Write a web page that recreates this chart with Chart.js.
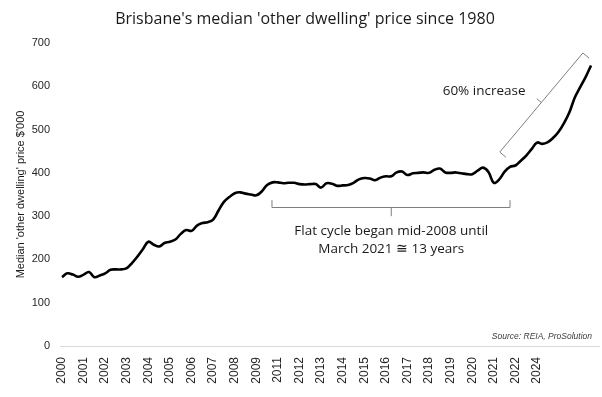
<!DOCTYPE html>
<html>
<head>
<meta charset="utf-8">
<script src="https://cdn.jsdelivr.net/npm/chart.js@4.4.1/dist/chart.umd.min.js"></script>
<style>
html,body{margin:0;padding:0;background:#fff;}
#wrap{width:602px;height:397px;position:relative;}
</style>
</head>
<body>
<div id="wrap"><canvas id="c" width="602" height="397"></canvas></div>
<script>
// Tick labels shown on the category axis (one every 4 quarters)
const tickLabels = ['2000','2001','2002','2003','2004','2005','2006','2007','2008','2009',
  '2011','2012','2013','2014','2015','2016','2017','2018','2019','2020','2021','2022','2024'];

// Quarterly median 'other dwelling' price, $'000
const prices = [
  159,168,165,160,165,171,159,163,168,176,
  177,177,180,192,207,224,241,234,230,238,
  241,246,259,268,266,278,284,286,292,313,
  333,344,353,355,352,350,348,357,372,378,
  378,376,377,377,374,373,374,374,366,376,
  375,370,371,372,377,385,388,387,383,389,
  392,392,401,403,395,399,400,401,400,407,
  410,401,400,401,399,397,397,405,412,402,
  377,385,403,414,417,428,440,455,470,467,
  471,481,495,515,540,574,598,621,648
];

// Category labels built from tick labels
const categories = prices.map((v, i) => (i % 4 === 0 && i / 4 < tickLabels.length) ? tickLabels[i / 4] : '');

const yTicks = [0,100,200,300,400,500,600,700];

const annot = {
  title: "Brisbane's median 'other dwelling' price since 1980",
  flatText: ['Flat cycle began mid-2008 until', 'March 2021 \u2245 13 years'],
  riseText: '60% increase',
  source: 'Source: REIA, ProSolution'
};

const annotPlugin = {
  id: 'annot',
  beforeDatasetsDraw(chart) {
    const ctx = chart.ctx, y = chart.scales.y, a = chart.chartArea;
    const y0 = Math.round(y.getPixelForValue(0)) + 0.5;
    ctx.save();
    ctx.strokeStyle = '#d9d9d9';
    ctx.lineWidth = 1;
    ctx.beginPath();
    ctx.moveTo(a.left - 2, y0);
    ctx.lineTo(600, y0);
    ctx.stroke();
    ctx.restore();
  },
  afterDraw(chart) {
    const ctx = chart.ctx, x = chart.scales.x, y = chart.scales.y, a = chart.chartArea;
    const px = v => x.getPixelForValue(v), py = v => y.getPixelForValue(v);
    ctx.save();
    // Title
    ctx.fillStyle = '#1a1a1a';
    ctx.font = '16px "Open Sans"';
    ctx.textAlign = 'center';
    ctx.textBaseline = 'middle';
    ctx.fillText(annot.title, 305, 19);

    // Flat cycle bracket
    ctx.strokeStyle = '#7f7f7f';
    ctx.lineWidth = 1;
    const l = px(38.9), r = px(83), c = px(61);
    const yb = Math.round(py(321)) + 0.5, yt = py(337), yd = py(300);
    ctx.beginPath();
    ctx.moveTo(l, yt); ctx.lineTo(l, yb); ctx.lineTo(r, yb); ctx.lineTo(r, yt);
    ctx.moveTo(c, yb); ctx.lineTo(c, yd);
    ctx.stroke();
    ctx.fillStyle = '#1a1a1a';
    ctx.font = '13.5px "Open Sans"';
    ctx.textAlign = 'center';
    ctx.fillText(annot.flatText[0], c, py(265.6));
    ctx.fillText(annot.flatText[1], c, py(224));

    // 60% increase bracket (diagonal)
    const p1 = [px(81.1), py(448)], p2 = [px(96.5), py(677)];
    const dx = p2[0] - p1[0], dy = p2[1] - p1[1], len = Math.hypot(dx, dy);
    const nx = -dy / len, ny = dx / len;
    const sx = nx > 0 ? nx : -nx, sy = nx > 0 ? ny : -ny;
    const mid = [(p1[0] + p2[0]) / 2, (p1[1] + p2[1]) / 2];
    ctx.beginPath();
    ctx.moveTo(p1[0] + sx * 8, p1[1] + sy * 8);
    ctx.lineTo(p1[0], p1[1]);
    ctx.lineTo(p2[0], p2[1]);
    ctx.lineTo(p2[0] + sx * 8, p2[1] + sy * 8);
    ctx.moveTo(mid[0], mid[1]);
    ctx.lineTo(mid[0] - sx * 6, mid[1] - sy * 6);
    ctx.stroke();
    ctx.textAlign = 'center';
    ctx.fillText(annot.riseText, px(78.2), py(589));

    // Source
    ctx.font = 'italic 8.5px "Liberation Sans"';
    ctx.fillStyle = '#404040';
    ctx.textAlign = 'right';
    ctx.fillText(annot.source, 592, py(21));
    ctx.restore();
  }
};

new Chart(document.getElementById('c'), {
  type: 'line',
  data: {
    labels: categories,
    datasets: [{
      data: prices,
      borderColor: '#000',
      borderWidth: 2.6,
      pointRadius: 0,
      tension: 0.4,
      fill: false
    }]
  },
  options: {
    responsive: false,
    animation: false,
    layout: { padding: { top: 43, left: 10, right: 11, bottom: 0 } },
    plugins: { legend: { display: false }, tooltip: { enabled: false }, title: { display: false } },
    scales: {
      x: {
        type: 'category',
        offset: false,
        grid: { display: false, drawTicks: false },
        border: { display: false },
        ticks: {
          autoSkip: false,
          maxRotation: 90,
          minRotation: 90,
          padding: 11,
          color: '#262626',
          font: { family: '"Liberation Sans"', size: 12 }
        },
        afterFit(s) { s.height = 51; s.paddingLeft = 0; s.paddingRight = 0; }
      },
      y: {
        min: 0,
        max: 700,
        afterBuildTicks(s) { s.ticks = yTicks.map(v => ({ value: v })); },
        grid: { display: false, drawTicks: false },
        border: { display: false },
        ticks: {
          padding: 12,
          color: '#262626',
          font: { family: '"Liberation Sans"', size: 11 }
        },
        title: {
          display: true,
          text: "Median 'other dwelling' price $'000",
          color: '#1a1a1a',
          padding: 4,
          font: { family: '"Liberation Sans"', size: 11 }
        },
        afterFit(s) { s.width = 52; }
      }
    }
  },
  plugins: [annotPlugin]
});
</script>
</body>
</html>
